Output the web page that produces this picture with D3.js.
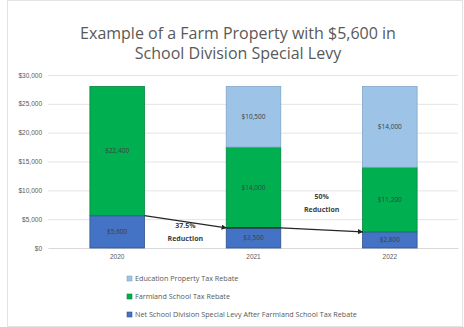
<!DOCTYPE html>
<html>
<head>
<meta charset="utf-8">
<script src="https://cdn.jsdelivr.net/npm/d3@7"></script>
<style>
  html, body { margin: 0; padding: 0; background: #fff; }
  svg { display: block; font-family: "Open Sans", "Liberation Sans", Arial, sans-serif; }
</style>
</head>
<body>
<svg id="chart" width="464" height="327"></svg>
<script>
// School tax on a farm property, split by who pays it
const years = ["2020", "2021", "2022"];
const netLevy = [5600, 3500, 2800];          // Net School Division Special Levy
const farmlandRebate = [22400, 14000, 11200]; // Farmland School Tax Rebate
const educationRebate = [0, 10500, 14000];    // Education Property Tax Rebate
const yTicks = [0, 5000, 10000, 15000, 20000, 25000, 30000];
const reductions = ["37.5%", "50%"];

const seriesNames = [
  "Education Property Tax Rebate",
  "Farmland School Tax Rebate",
  "Net School Division Special Levy After Farmland School Tax Rebate"
];
const colors = { net: "#4472C4", farm: "#00B050", edu: "#9DC3E6" };
const strokes = { net: "#2F528F", farm: "#00843C", edu: "#7FA6C9" };

const svg = d3.select("#chart");
const W = 464, H = 327;

// outer frame
svg.append("rect").attr("x", 7.5).attr("y", 0.5).attr("width", W - 9).attr("height", H - 1)
  .attr("fill", "#fff").attr("stroke", "#e3e3e3");

// title
const title = svg.append("text").attr("text-anchor", "middle").attr("fill", "#595959")
  .attr("font-size", 16);
title.append("tspan").attr("x", 238).attr("y", 39).text("Example of a Farm Property with $5,600 in");
title.append("tspan").attr("x", 238).attr("y", 59).text("School Division Special Levy");

const x = d3.scaleBand().domain(years).range([49, 458]).paddingInner(0.6).paddingOuter(0.3);
const y = d3.scaleLinear().domain([0, 30000]).range([248, 75]);

// gridlines
svg.append("g").selectAll("line").data(yTicks).join("line")
  .attr("x1", 48).attr("x2", 458)
  .attr("y1", d => y(d) + 0.5).attr("y2", d => y(d) + 0.5)
  .attr("stroke", "#d9d9d9").attr("stroke-width", 0.7);

// y axis
const yAxis = svg.append("g").attr("transform", "translate(44,0)")
  .call(d3.axisLeft(y).tickValues(yTicks).tickSize(0).tickPadding(2)
    .tickFormat(d => "$" + d3.format(",")(d)));
yAxis.select(".domain").remove();
yAxis.selectAll("text").attr("fill", "#595959").attr("font-size", 6.5);

// x axis
const xAxis = svg.append("g").attr("transform", "translate(0,248)")
  .call(d3.axisBottom(x).tickSize(0).tickPadding(6));
xAxis.select(".domain").attr("stroke", "#d9d9d9");
xAxis.selectAll("text").attr("fill", "#595959").attr("font-size", 6.5);

// stacked bars
const rows = years.map((yr, i) => ({ year: yr, net: netLevy[i], farm: farmlandRebate[i], edu: educationRebate[i] }));
const stack = d3.stack().keys(["net", "farm", "edu"])(rows);

const layers = svg.append("g").selectAll("g").data(stack).join("g")
  .attr("fill", d => colors[d.key]).attr("stroke", d => strokes[d.key]).attr("stroke-width", 0.8);

layers.selectAll("rect").data(d => d.filter(s => s[1] > s[0])).join("rect")
  .attr("x", d => x(d.data.year))
  .attr("width", x.bandwidth())
  .attr("y", d => y(d[1]))
  .attr("height", d => y(d[0]) - y(d[1]));

// segment value labels
stack.forEach(layer => {
  svg.append("g").selectAll("text").data(layer.filter(s => s[1] > s[0])).join("text")
    .attr("x", d => x(d.data.year) + x.bandwidth() / 2)
    .attr("y", d => (y(d[0]) + y(d[1])) / 2 + 2.2)
    .attr("text-anchor", "middle")
    .attr("font-size", 6.5)
    .attr("fill", "#404040")
    .text(d => "$" + d3.format(",")(d[1] - d[0]));
});

// reduction arrows along the top of the net levy
const defs = svg.append("defs");
defs.append("marker").attr("id", "arrow").attr("viewBox", "0 0 10 10")
  .attr("refX", 9).attr("refY", 5).attr("markerWidth", 4).attr("markerHeight", 4)
  .attr("orient", "auto")
  .append("path").attr("d", "M0,0L10,5L0,10z").attr("fill", "#262626");

const segs = [
  [[x("2020") + x.bandwidth(), y(netLevy[0])], [x("2021"), y(netLevy[1])]],
  [[x("2021") + x.bandwidth(), y(netLevy[1])], [x("2022"), y(netLevy[2])]]
];
svg.append("line")
  .attr("x1", x("2021")).attr("x2", x("2021") + x.bandwidth())
  .attr("y1", y(netLevy[1])).attr("y2", y(netLevy[1]))
  .attr("stroke", "#262626").attr("stroke-width", 1.3);
svg.append("g").selectAll("line").data(segs).join("line")
  .attr("x1", d => d[0][0]).attr("y1", d => d[0][1])
  .attr("x2", d => d[1][0]).attr("y2", d => d[1][1])
  .attr("stroke", "#262626").attr("stroke-width", 1.3)
  .attr("marker-end", "url(#arrow)");

// reduction labels
const redPos = [
  { x: (x("2020") + x.bandwidth() + x("2021")) / 2, y: 228 },
  { x: (x("2021") + x.bandwidth() + x("2022")) / 2, y: 199 }
];
reductions.forEach((r, i) => {
  const t = svg.append("text").attr("text-anchor", "middle").attr("font-size", 7)
    .attr("font-weight", "bold").attr("fill", "#404040");
  t.append("tspan").attr("x", redPos[i].x).attr("y", redPos[i].y).text(r);
  t.append("tspan").attr("x", redPos[i].x).attr("y", redPos[i].y + 13).text("Reduction");
});

// legend
const legendKeys = ["edu", "farm", "net"];
const lg = svg.append("g").selectAll("g").data(legendKeys).join("g")
  .attr("transform", (d, i) => `translate(127,${277 + i * 18})`);
lg.append("rect").attr("width", 5).attr("height", 5).attr("y", -1)
  .attr("fill", d => colors[d]).attr("stroke", d => strokes[d]).attr("stroke-width", 0.6);
lg.append("text").attr("x", 8).attr("y", 4).attr("font-size", 7.2).attr("fill", "#595959")
  .text((d, i) => seriesNames[i]);
</script>
</body>
</html>
